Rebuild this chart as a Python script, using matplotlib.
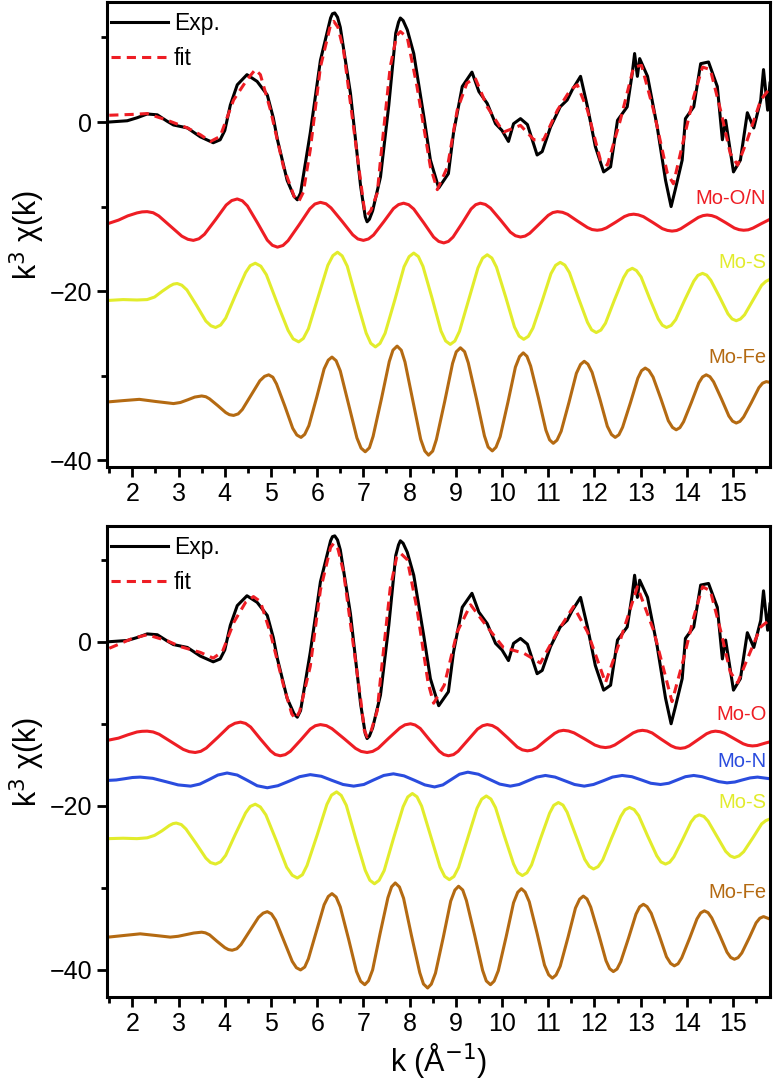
import numpy as np
import matplotlib
matplotlib.use('Agg')
import matplotlib.pyplot as plt
from matplotlib.ticker import MultipleLocator

plt.rcParams['font.family'] = ['Liberation Sans', 'DejaVu Sans']

# ---- Dados experimentais (mesmo espectro nos dois painéis) ----
k_exp = [1.50, 1.89, 2.10, 2.32, 2.54, 2.75, 2.89, 3.19, 3.47, 3.75, 3.90, 4.00, 4.12, 4.27,
         4.48, 4.70, 4.92, 5.05, 5.14, 5.35, 5.50, 5.57, 5.64, 5.85, 6.07, 6.29, 6.33, 6.38,
         6.44, 6.50, 6.72, 6.94, 7.04, 7.08, 7.13, 7.20, 7.37, 7.55, 7.70, 7.76, 7.80, 7.86,
         7.95, 8.09, 8.31, 8.45, 8.63, 8.84, 8.95, 9.14, 9.35, 9.50, 9.68, 9.86, 10.00, 10.14,
         10.25, 10.40, 10.55, 10.76, 10.87, 11.05, 11.26, 11.41, 11.52, 11.70, 11.85, 12.02,
         12.20, 12.35, 12.50, 12.71, 12.82, 12.87, 12.93, 12.98, 13.15, 13.36, 13.54, 13.66,
         13.75, 13.90, 13.97, 14.15, 14.30, 14.47, 14.66, 14.77, 14.84, 15.01, 15.16, 15.31,
         15.45, 15.60, 15.66, 15.75, 15.80]
chi_exp = [0.0, 0.15, 0.5, 0.95, 0.85, 0.1, -0.35, -0.7, -1.75, -2.45, -2.1, -1.0, 2.0, 4.4,
           5.6, 4.8, 3.2, 0.5, -2.1, -6.9, -8.8, -9.2, -8.4, -1.3, 7.3, 12.3, 12.8, 12.9,
           12.4, 11.2, 3.4, -7.6, -11.2, -11.8, -11.5, -10.5, -6.5, 2.0, 10.5, 11.8, 12.3, 12.0,
           10.9, 8.1, 0.6, -4.5, -7.8, -6.1, -1.3, 4.2, 5.9, 3.6, 2.2, -0.2, -1.0, -2.3,
           -0.2, 0.4, -0.3, -3.9, -3.5, -0.6, 1.8, 2.6, 3.8, 5.4, 1.8, -2.9,
           -5.9, -5.3, 0.2, 1.8, 5.8, 8.1, 5.4, 7.5, 5.4, -0.6, -6.9, -10.0,
           -8.0, -4.5, 0.4, 1.8, 6.9, 7.1, 4.2, -2.1, 0.2, -5.9, -4.5, 1.1,
           -0.7, 2.6, 6.2, 1.4, 4.6]

# ---- Ajuste (painel superior) ----
k_fit1 = [1.50, 2.00, 2.32, 2.76, 3.19, 3.47, 3.69, 3.90, 4.19, 4.48, 4.66, 4.77, 4.99, 5.27,
          5.50, 5.60, 5.70, 5.85, 6.07, 6.29, 6.36, 6.45, 6.57, 6.94, 7.02, 7.08, 7.16, 7.30,
          7.37, 7.58, 7.72, 7.80, 7.95, 8.16, 8.45, 8.60, 8.82, 9.03, 9.24, 9.42, 9.68, 10.03,
          10.40, 10.69, 10.90, 11.20, 11.48, 11.63, 11.85, 12.13, 12.28, 12.56, 12.85, 13.02,
          13.28, 13.58, 13.71, 13.93, 14.15, 14.34, 14.51, 14.73, 14.94, 15.10, 15.31, 15.60,
          15.80]
chi_fit1 = [0.8, 0.9, 1.0, 0.2, -0.7, -1.5, -2.3, -1.7, 2.6, 5.0, 6.2, 5.6, 1.4, -5.3,
            -8.8, -9.4, -8.3, -3.3, 6.5, 11.5, 11.9, 11.2, 8.5, -7.0, -10.3, -11.0, -10.5, -8.4,
            -4.5, 6.5, 10.2, 10.7, 10.0, 4.2, -5.3, -8.0, -5.3, 1.4, 4.6, 5.2, 1.8, -1.2,
            -0.4, -2.1, -2.1, 1.4, 3.8, 4.4, 1.4, -4.5, -5.1, 0.2, 6.5, 6.7,
            1.4, -6.1, -7.3, -2.1, 3.0, 6.5, 6.2, 1.4, -3.7, -5.1, -2.1, 2.6,
            4.0]

# ---- Ajuste (painel inferior) ----
k_fit2 = [1.50, 2.00, 2.32, 2.76, 3.04, 3.47, 3.75, 3.95, 4.20, 4.45, 4.62, 4.77, 4.99, 5.27,
          5.45, 5.53, 5.62, 5.85, 6.07, 6.29, 6.36, 6.45, 6.57, 6.94, 7.02, 7.08, 7.16, 7.30,
          7.37, 7.58, 7.72, 7.80, 7.95, 8.16, 8.40, 8.52, 8.75, 9.03, 9.32, 9.68, 10.03, 10.47,
          10.83, 11.20, 11.55, 11.85, 12.24, 12.56, 12.93, 13.28, 13.68, 13.93, 14.15, 14.34,
          14.51, 14.73, 14.94, 15.10, 15.31, 15.60, 15.80]
chi_fit2 = [-0.8, 0.4, 0.85, 0.1, -0.6, -1.3, -2.0, -1.2, 2.4, 4.8, 5.5, 4.9, 1.0, -5.3,
            -8.8, -9.4, -8.5, -3.0, 6.3, 11.5, 12.0, 11.3, 8.5, -7.0, -10.8, -11.6, -11.0, -8.4,
            -4.5, 6.5, 10.3, 10.8, 10.0, 4.0, -5.0, -7.5, -5.3, 1.2, 4.5, 1.8, -0.7, -1.4,
            -2.6, 1.2, 4.3, 1.2, -5.0, 0.2, 6.7, 1.4, -7.3, -2.1, 3.0, 6.7,
            6.2, 1.4, -3.7, -5.0, -2.1, 1.8, 2.7]

# ---- Componentes do painel superior ----
k_mo_on = [1.48, 1.70, 1.90, 2.10, 2.21, 2.32, 2.45, 2.57, 2.82, 3.07, 3.20, 3.32, 3.44,
           3.56, 3.80, 4.03, 4.15, 4.27, 4.38, 4.49, 4.71, 4.92, 5.03, 5.14, 5.26, 5.37,
           5.61, 5.84, 5.95, 6.07, 6.19, 6.30, 6.54, 6.77, 6.88, 7.00, 7.11, 7.22, 7.44,
           7.65, 7.76, 7.87, 7.98, 8.09, 8.31, 8.52, 8.63, 8.74, 8.84, 8.94, 9.14, 9.33,
           9.43, 9.53, 9.64, 9.75, 9.97, 10.18, 10.29, 10.40, 10.50, 10.60, 10.80, 11.00,
           11.10, 11.20, 11.31, 11.42, 11.63, 11.85, 11.95, 12.06, 12.16, 12.26, 12.46,
           12.65, 12.75, 12.85, 12.95, 13.06, 13.27, 13.47, 13.58, 13.68, 13.78, 13.87,
           14.06, 14.25, 14.35, 14.44, 14.54, 14.64, 14.84, 15.03, 15.13, 15.23, 15.33,
           15.43, 15.62, 15.80]
chi_mo_on = [-12.0, -11.6, -11.1, -10.75, -10.63, -10.6, -10.73, -11.1, -12.3, -13.5, -13.87,
             -14.0, -13.81, -13.28, -11.55, -9.82, -9.29, -9.1, -9.32, -9.93, -11.95, -13.97,
             -14.58, -14.8, -14.6, -14.03, -12.15, -10.27, -9.7, -9.5, -9.67, -10.16, -11.75,
             -13.34, -13.83, -14.0, -13.83, -13.36, -11.8, -10.24, -9.77, -9.6, -9.78, -10.29,
             -11.95, -13.61, -14.12, -14.3, -14.12, -13.61, -11.95, -10.29, -9.78, -9.6,
             -9.75, -10.18, -11.6, -13.02, -13.45, -13.6, -13.49, -13.16, -12.1, -11.04,
             -10.71, -10.6, -10.68, -10.92, -11.7, -12.48, -12.72, -12.8, -12.73, -12.52,
             -11.85, -11.18, -10.97, -10.9, -10.98, -11.19, -11.9, -12.61, -12.82, -12.9,
             -12.83, -12.62, -11.95, -11.28, -11.07, -11.0, -11.07, -11.26, -11.9, -12.54,
             -12.73, -12.8, -12.75, -12.55, -12.0, -11.5]

k_mo_s1 = [1.48, 1.80, 2.10, 2.32, 2.48, 2.65, 2.81, 2.89, 2.97, 3.07, 3.18, 3.39, 3.59,
           3.70, 3.80, 3.91, 4.02, 4.23, 4.45, 4.55, 4.66, 4.78, 4.90, 5.13, 5.37, 5.48,
           5.60, 5.70, 5.81, 6.02, 6.23, 6.34, 6.44, 6.54, 6.65, 6.85, 7.06, 7.16, 7.26,
           7.36, 7.47, 7.68, 7.88, 7.99, 8.09, 8.19, 8.29, 8.49, 8.68, 8.78, 8.88, 8.98,
           9.08, 9.28, 9.48, 9.58, 9.68, 9.78, 9.88, 10.08, 10.27, 10.37, 10.47, 10.57,
           10.67, 10.87, 11.06, 11.16, 11.26, 11.36, 11.46, 11.65, 11.85, 11.94, 12.04,
           12.14, 12.24, 12.43, 12.63, 12.72, 12.82, 12.91, 13.01, 13.19, 13.38, 13.47,
           13.56, 13.66, 13.76, 13.95, 14.15, 14.24, 14.34, 14.43, 14.52, 14.71, 14.89,
           14.98, 15.07, 15.16, 15.25, 15.44, 15.62, 15.71, 15.80]
chi_mo_s1 = [-21.1, -21.0, -21.05, -21.0, -20.7, -20.0, -19.4, -19.17, -19.1, -19.3, -19.86,
             -21.7, -23.54, -24.1, -24.3, -24.01, -23.19, -20.5, -17.81, -16.99, -16.7,
             -17.05, -18.06, -21.35, -24.64, -25.65, -26.0, -25.6, -24.45, -20.7, -16.95,
             -15.8, -15.4, -15.83, -17.04, -21.0, -24.96, -26.17, -26.6, -26.18, -24.98,
             -21.05, -17.12, -15.92, -15.5, -15.91, -17.08, -20.9, -24.72, -25.89, -26.3,
             -25.9, -24.75, -21.0, -17.25, -16.1, -15.7, -16.08, -17.16, -20.7, -24.24,
             -25.32, -25.7, -25.35, -24.37, -21.15, -17.93, -16.95, -16.6, -16.92, -17.81,
             -20.75, -23.69, -24.58, -24.9, -24.61, -23.79, -21.1, -18.41, -17.59, -17.3,
             -17.57, -18.32, -20.8, -23.28, -24.03, -24.3, -24.06, -23.37, -21.1, -18.83,
             -18.14, -17.9, -18.11, -18.72, -20.7, -22.68, -23.29, -23.5, -23.3, -22.8,
             -21.0, -19.3, -18.85, -18.6]

k_mo_fe1 = [1.48, 1.80, 2.15, 2.50, 2.89, 3.04, 3.20, 3.35, 3.50, 3.59, 3.67, 3.85, 4.02,
            4.10, 4.19, 4.29, 4.38, 4.57, 4.76, 4.86, 4.95, 5.04, 5.12, 5.30, 5.47, 5.56,
            5.65, 5.73, 5.82, 5.99, 6.15, 6.24, 6.32, 6.41, 6.50, 6.68, 6.86, 6.95, 7.04,
            7.13, 7.21, 7.39, 7.56, 7.64, 7.73, 7.82, 7.90, 8.07, 8.24, 8.33, 8.41, 8.50,
            8.58, 8.76, 8.93, 9.01, 9.10, 9.19, 9.27, 9.45, 9.62, 9.70, 9.79, 9.87, 9.96,
            10.13, 10.29, 10.38, 10.46, 10.54, 10.62, 10.79, 10.95, 11.03, 11.11, 11.19,
            11.28, 11.45, 11.61, 11.70, 11.78, 11.86, 11.95, 12.12, 12.28, 12.37, 12.45,
            12.53, 12.61, 12.78, 12.94, 13.02, 13.10, 13.18, 13.27, 13.44, 13.60, 13.69,
            13.77, 13.85, 13.93, 14.10, 14.26, 14.34, 14.42, 14.50, 14.58, 14.75, 14.91,
            14.99, 15.07, 15.15, 15.23, 15.40, 15.56, 15.64, 15.72, 15.80]
chi_mo_fe1 = [-33.1, -32.95, -32.8, -33.05, -33.3, -33.17, -32.85, -32.53, -32.4, -32.49,
              -32.74, -33.55, -34.36, -34.61, -34.7, -34.52, -34.0, -32.3, -30.6, -30.08,
              -29.9, -30.18, -30.98, -33.6, -36.22, -37.02, -37.3, -36.94, -35.91, -32.55,
              -29.19, -28.16, -27.8, -28.23, -29.44, -33.4, -37.36, -38.57, -39.0, -38.53,
              -37.18, -32.75, -28.33, -26.98, -26.5, -26.99, -28.38, -32.95, -37.52, -38.91,
              -39.4, -38.92, -37.55, -33.05, -28.55, -27.18, -26.7, -27.16, -28.48, -32.8,
              -37.12, -38.44, -38.9, -38.46, -37.21, -33.1, -28.99, -27.74, -27.3, -27.71,
              -28.86, -32.65, -36.44, -37.59, -38.0, -37.63, -36.58, -33.15, -29.72, -28.67,
              -28.3, -28.64, -29.61, -32.8, -35.99, -36.96, -37.3, -36.99, -36.1, -33.2,
              -30.3, -29.41, -29.1, -29.38, -30.17, -32.75, -35.33, -36.12, -36.4, -36.15,
              -35.45, -33.15, -30.85, -30.15, -29.9, -30.12, -30.73, -32.75, -34.77, -35.38,
              -35.6, -35.41, -34.88, -33.15, -31.42, -30.89, -30.7, -30.8]

# ---- Componentes do painel inferior ----
k_mo_o = [1.48, 1.70, 1.90, 2.10, 2.21, 2.32, 2.45, 2.58, 2.84, 3.10, 3.23, 3.36, 3.48,
          3.60, 3.85, 4.09, 4.22, 4.34, 4.45, 4.56, 4.77, 4.99, 5.09, 5.20, 5.31, 5.42,
          5.64, 5.85, 5.96, 6.07, 6.20, 6.32, 6.58, 6.83, 6.95, 7.08, 7.20, 7.32, 7.55,
          7.79, 7.90, 8.02, 8.12, 8.23, 8.43, 8.64, 8.74, 8.84, 8.95, 9.05, 9.26, 9.47,
          9.58, 9.68, 9.79, 9.90, 10.12, 10.33, 10.44, 10.55, 10.65, 10.75, 10.94, 11.14,
          11.23, 11.33, 11.44, 11.56, 11.79, 12.01, 12.13, 12.24, 12.34, 12.44, 12.64,
          12.84, 12.94, 13.04, 13.14, 13.25, 13.45, 13.66, 13.76, 13.86, 13.96, 14.05,
          14.24, 14.43, 14.53, 14.62, 14.72, 14.82, 15.02, 15.22, 15.32, 15.42, 15.52,
          15.61, 15.70, 15.80]
chi_mo_o = [-12.0, -11.75, -11.35, -11.0, -10.92, -10.9, -11.0, -11.28, -12.2, -13.12, -13.4,
            -13.5, -13.36, -12.96, -11.65, -10.34, -9.94, -9.8, -9.96, -10.4, -11.85, -13.3,
            -13.74, -13.9, -13.76, -13.35, -12.0, -10.65, -10.24, -10.1, -10.23, -10.6, -11.8,
            -13.0, -13.37, -13.5, -13.37, -12.99, -11.75, -10.51, -10.13, -10.0, -10.15,
            -10.57, -11.95, -13.33, -13.75, -13.9, -13.76, -13.35, -12.0, -10.65, -10.24,
            -10.1, -10.22, -10.57, -11.7, -12.83, -13.18, -13.3, -13.21, -12.94, -12.05,
            -11.17, -10.9, -10.8, -10.88, -11.11, -11.85, -12.59, -12.82, -12.9, -12.82,
            -12.59, -11.85, -11.11, -10.88, -10.8, -10.88, -11.12, -11.9, -12.68, -12.92,
            -13.0, -12.92, -12.69, -11.95, -11.21, -10.98, -10.9, -10.97, -11.16, -11.8,
            -12.44, -12.63, -12.7, -12.65, -12.5, -12.35, -12.2]

k_mo_n = [1.48, 1.65, 1.83, 2.00, 2.17, 2.44, 2.72, 2.99, 3.26, 3.46, 3.66, 3.85, 4.05,
          4.27, 4.49, 4.70, 4.92, 5.15, 5.39, 5.62, 5.85, 6.09, 6.32, 6.56, 6.79, 7.01,
          7.22, 7.44, 7.65, 7.88, 8.11, 8.33, 8.54, 8.72, 8.90, 9.08, 9.26, 9.49, 9.72,
          9.95, 10.18, 10.37, 10.56, 10.75, 10.94, 11.15, 11.36, 11.57, 11.78, 11.98, 12.19,
          12.39, 12.60, 12.81, 13.02, 13.22, 13.43, 13.61, 13.79, 13.97, 14.15, 14.33,
          14.51, 14.69, 14.87, 15.04, 15.20, 15.37, 15.53, 15.80]
chi_mo_n = [-16.9, -16.85, -16.7, -16.55, -16.5, -16.65, -17.05, -17.45, -17.6, -17.35,
            -16.8, -16.25, -16.0, -16.25, -16.9, -17.55, -17.8, -17.55, -17.0, -16.45,
            -16.2, -16.4, -16.9, -17.4, -17.6, -17.4, -16.85, -16.3, -16.1, -16.35, -16.9,
            -17.45, -17.7, -17.45, -16.8, -16.15, -15.9, -16.15, -16.75, -17.35, -17.6,
            -17.4, -16.95, -16.5, -16.3, -16.5, -16.95, -17.4, -17.6, -17.4, -16.95, -16.5,
            -16.3, -16.45, -16.85, -17.25, -17.4, -17.25, -16.85, -16.45, -16.3, -16.45,
            -16.75, -17.05, -17.2, -17.1, -16.85, -16.6, -16.5, -16.7]

k_mo_s2 = [1.48, 1.80, 2.10, 2.32, 2.48, 2.64, 2.80, 2.88, 2.95, 3.06, 3.16, 3.38, 3.59,
           3.69, 3.80, 3.91, 4.02, 4.23, 4.45, 4.55, 4.66, 4.77, 4.89, 5.12, 5.34, 5.46,
           5.57, 5.68, 5.78, 6.00, 6.21, 6.31, 6.42, 6.52, 6.63, 6.83, 7.04, 7.14, 7.24,
           7.34, 7.45, 7.65, 7.86, 7.96, 8.06, 8.16, 8.26, 8.46, 8.66, 8.76, 8.86, 8.96,
           9.06, 9.26, 9.46, 9.56, 9.66, 9.76, 9.86, 10.05, 10.25, 10.34, 10.44, 10.54,
           10.64, 10.83, 11.03, 11.12, 11.22, 11.32, 11.41, 11.60, 11.79, 11.89, 11.98,
           12.08, 12.18, 12.37, 12.57, 12.66, 12.76, 12.86, 12.96, 13.15, 13.35, 13.44,
           13.54, 13.63, 13.72, 13.91, 14.09, 14.18, 14.27, 14.37, 14.46, 14.65, 14.84,
           14.94, 15.03, 15.13, 15.23, 15.43, 15.62, 15.71, 15.80]
chi_mo_s2 = [-24.0, -23.95, -24.0, -23.9, -23.6, -23.05, -22.4, -22.17, -22.1, -22.29, -22.83,
             -24.6, -26.37, -26.91, -27.1, -26.82, -26.03, -23.45, -20.87, -20.08, -19.8,
             -20.14, -21.11, -24.3, -27.49, -28.46, -28.8, -28.4, -27.27, -23.55, -19.83,
             -18.7, -18.3, -18.73, -19.94, -23.9, -27.86, -29.07, -29.5, -29.08, -27.89,
             -24.0, -20.11, -18.92, -18.5, -18.9, -20.03, -23.75, -27.47, -28.6, -29.0,
             -28.61, -27.51, -23.9, -20.29, -19.19, -18.8, -19.17, -20.22, -23.65, -27.08,
             -28.13, -28.5, -28.16, -27.2, -24.05, -20.9, -19.94, -19.6, -19.91, -20.78,
             -23.65, -26.52, -27.39, -27.7, -27.41, -26.6, -23.95, -21.3, -20.49, -20.2,
             -20.46, -21.21, -23.65, -26.09, -26.84, -27.1, -26.87, -26.22, -24.1, -21.98,
             -21.33, -21.1, -21.3, -21.86, -23.7, -25.54, -26.1, -26.3, -26.1, -25.6,
             -23.9, -22.2, -21.8, -21.6]

k_mo_fe2 = [1.48, 1.82, 2.17, 2.50, 2.82, 2.99, 3.16, 3.33, 3.50, 3.58, 3.67, 3.83, 4.00,
            4.08, 4.16, 4.26, 4.35, 4.54, 4.73, 4.83, 4.92, 5.01, 5.10, 5.28, 5.46, 5.55,
            5.64, 5.73, 5.81, 5.98, 6.15, 6.24, 6.32, 6.41, 6.50, 6.68, 6.85, 6.94, 7.03,
            7.11, 7.20, 7.36, 7.53, 7.61, 7.69, 7.78, 7.87, 8.04, 8.22, 8.30, 8.39, 8.47,
            8.56, 8.73, 8.89, 8.98, 9.06, 9.15, 9.23, 9.41, 9.58, 9.66, 9.75, 9.83, 9.92,
            10.09, 10.25, 10.34, 10.42, 10.50, 10.59, 10.76, 10.92, 11.01, 11.09, 11.17,
            11.26, 11.43, 11.59, 11.68, 11.76, 11.84, 11.92, 12.09, 12.25, 12.33, 12.41,
            12.49, 12.57, 12.74, 12.90, 12.98, 13.06, 13.14, 13.23, 13.40, 13.56, 13.65,
            13.73, 13.81, 13.89, 14.06, 14.22, 14.30, 14.38, 14.46, 14.54, 14.71, 14.87,
            14.95, 15.03, 15.11, 15.19, 15.35, 15.50, 15.58, 15.66, 15.80]
chi_mo_fe2 = [-36.0, -35.8, -35.6, -35.8, -36.0, -35.9, -35.7, -35.5, -35.4, -35.48, -35.72,
              -36.5, -37.28, -37.52, -37.6, -37.42, -36.91, -35.25, -33.59, -33.08, -32.9,
              -33.17, -33.94, -36.45, -38.96, -39.73, -40.0, -39.65, -38.64, -35.35, -32.06,
              -31.05, -30.7, -31.12, -32.32, -36.25, -40.18, -41.38, -41.8, -41.33, -39.99,
              -35.6, -31.21, -29.87, -29.4, -29.89, -31.27, -35.8, -40.33, -41.71, -42.2,
              -41.73, -40.39, -36.0, -31.61, -30.27, -29.8, -30.26, -31.55, -35.8, -40.05,
              -41.34, -41.8, -41.36, -40.09, -35.95, -31.81, -30.54, -30.1, -30.51, -31.69,
              -35.55, -39.41, -40.59, -41.0, -40.62, -39.54, -36.0, -32.46, -31.38, -31.0,
              -31.35, -32.34, -35.6, -38.86, -39.85, -40.2, -39.89, -39.0, -36.1, -33.2,
              -32.31, -32.0, -32.29, -33.1, -35.75, -38.4, -39.21, -39.5, -39.25, -38.52,
              -36.15, -33.78, -33.05, -32.8, -33.02, -33.66, -35.75, -37.84, -38.48, -38.7,
              -38.5, -37.94, -36.1, -34.26, -33.7, -33.5, -33.8]

RED = '#EE1D24'
YELLOW = '#E2EC2C'
BROWN = '#B46A12'
BLUE = '#2A4CDE'


def style_axis(ax, ylim):
    """Formata eixos no estilo Origin: ticks para fora, bordas grossas."""
    ax.set_xlim(1.45, 15.8)
    ax.set_ylim(*ylim)
    ax.xaxis.set_major_locator(MultipleLocator(1))
    ax.xaxis.set_minor_locator(MultipleLocator(0.5))
    ax.yaxis.set_major_locator(MultipleLocator(20))
    ax.yaxis.set_minor_locator(MultipleLocator(10))
    ax.tick_params(which='both', direction='out', width=2, labelsize=18,
                   top=False, right=False)
    ax.tick_params(which='major', length=7)
    ax.tick_params(which='minor', length=4)
    for sp in ax.spines.values():
        sp.set_linewidth(2.2)
    ax.set_ylabel('k$^3$ \u03c7(k)', fontsize=22, labelpad=2)
    ax.legend(loc='upper left', bbox_to_anchor=(0.006, 0.978), frameon=False,
              fontsize=16.5, handlelength=2.5, handletextpad=0.25, labelspacing=0.5,
              borderaxespad=0, borderpad=0)


fig = plt.figure(figsize=(7.74, 10.83), dpi=100)
ax1 = fig.add_axes([0.1382, 0.5688, 0.8566, 0.4294])
ax2 = fig.add_axes([0.1382, 0.0794, 0.8566, 0.4349])

lw = 2.2

# Painel superior
ax1.plot(k_exp, chi_exp, color='black', lw=lw, label='Exp.')
ax1.plot(k_fit1, chi_fit1, color=RED, lw=lw, ls=(0, (3, 2)), label='fit')
ax1.plot(k_mo_on, chi_mo_on, color=RED, lw=lw)
ax1.plot(k_mo_s1, chi_mo_s1, color=YELLOW, lw=lw)
ax1.plot(k_mo_fe1, chi_mo_fe1, color=BROWN, lw=lw)
ax1.text(15.72, -9.0, 'Mo-O/N', color=RED, fontsize=14.5, ha='right', va='center')
ax1.text(15.72, -16.6, 'Mo-S', color=YELLOW, fontsize=14.5, ha='right', va='center')
ax1.text(15.72, -27.9, 'Mo-Fe', color=BROWN, fontsize=14.5, ha='right', va='center')
style_axis(ax1, (-40.8, 14.2))

# Painel inferior
ax2.plot(k_exp, chi_exp, color='black', lw=lw, label='Exp.')
ax2.plot(k_fit2, chi_fit2, color=RED, lw=lw, ls=(0, (3, 2)), label='fit')
ax2.plot(k_mo_o, chi_mo_o, color=RED, lw=lw)
ax2.plot(k_mo_n, chi_mo_n, color=BLUE, lw=lw)
ax2.plot(k_mo_s2, chi_mo_s2, color=YELLOW, lw=lw)
ax2.plot(k_mo_fe2, chi_mo_fe2, color=BROWN, lw=lw)
ax2.text(15.72, -8.9, 'Mo-O', color=RED, fontsize=14.5, ha='right', va='center')
ax2.text(15.72, -14.6, 'Mo-N', color=BLUE, fontsize=14.5, ha='right', va='center')
ax2.text(15.72, -19.6, 'Mo-S', color=YELLOW, fontsize=14.5, ha='right', va='center')
ax2.text(15.72, -30.6, 'Mo-Fe', color=BROWN, fontsize=14.5, ha='right', va='center')
style_axis(ax2, (-43.3, 14.1))
ax2.set_xlabel('k (\u00c5$^{-1}$)', fontsize=22, labelpad=4)

fig.savefig('out.png', dpi=100)
